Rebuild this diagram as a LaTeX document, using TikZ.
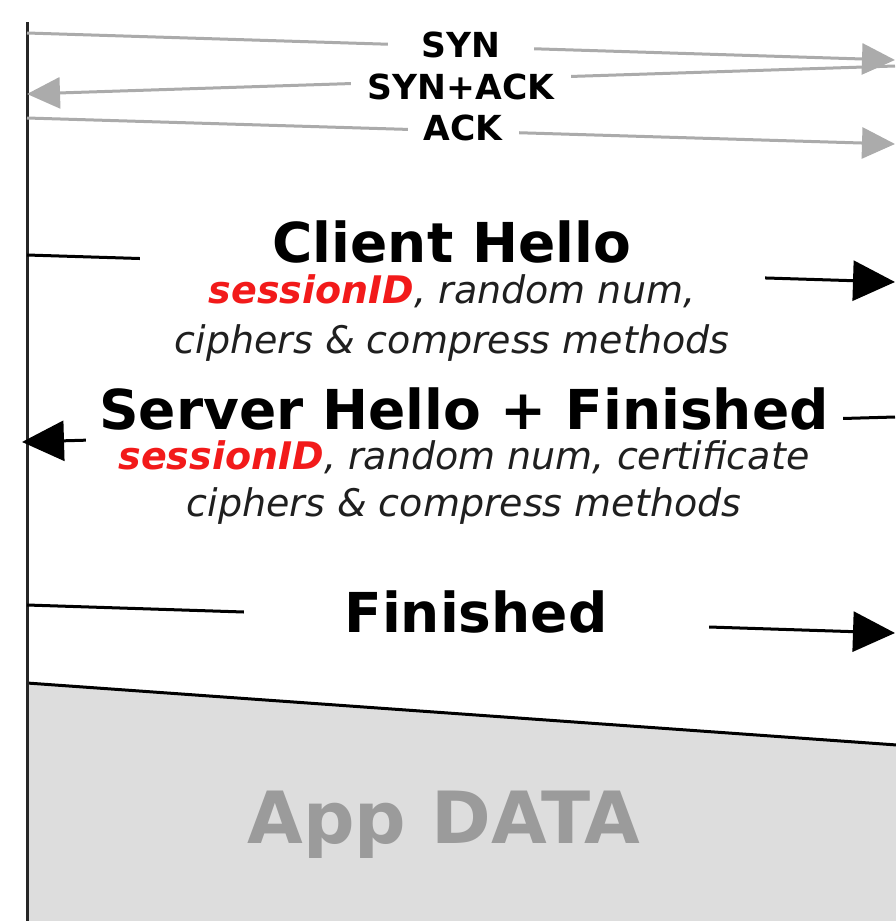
\documentclass[tikz,border=0pt]{standalone}
\usepackage{fontspec}
\setmainfont{DejaVu Sans}
\usetikzlibrary{arrows.meta}

\definecolor{tcpgray}{HTML}{ABABAB}
\definecolor{appfill}{HTML}{DDDDDD}
\definecolor{apptext}{HTML}{9B9B9B}
\definecolor{sidred}{HTML}{F21A1A}

\newcommand{\sid}{\textcolor{sidred}{\bfseries sessionID}}
\newcommand{\hd}[1]{{\fontsize{55}{60}\selectfont\bfseries\upshape\color{black}#1}}

\tikzset{
  lifeline/.style={line width=3pt, draw=black!85},
  tcpmsg/.style={line width=3pt, draw=tcpgray, -{Triangle[length=33pt,width=31pt]}},
  tlsmsg/.style={line width=3pt, -{Triangle[length=42pt,width=40pt]}},
  tcplbl/.style={fill=white, inner xsep=0pt, inner ysep=2pt, anchor=base,
    font=\fontsize{34.5}{38}\selectfont\bfseries},
  tlslbl/.style={fill=white, inner xsep=0pt, inner ysep=4pt, align=center,
    text=black!88, font=\fontsize{38}{50}\selectfont\itshape},
}

\begin{document}
\begin{tikzpicture}[x=1pt,y=-1pt]
  \useasboundingbox (0,0) rectangle (895,921);

  % application data once the handshake is done
  \fill[appfill] (27,683) -- (897,745) -- (897,921) -- (27,921) -- cycle;
  \draw[line width=3pt] (27,683) -- (897,745);
  \node[anchor=base, text=apptext, font=\fontsize{72}{80}\selectfont\bfseries] (app) at (444,843) {App DATA};

  % client and server
  \coordinate (cli) at (27,22);
  \coordinate (clibot) at (27,921);
  \coordinate (srv) at (897,22);
  \coordinate (srvbot) at (897,921);
  \draw[lifeline] (cli) -- (clibot);
  \draw[lifeline, draw=black!40] (srv) -- (srvbot);

  % tcp three way handshake
  \coordinate (syn-c) at (27,33);    \coordinate (syn-s) at (895,60);
  \coordinate (synack-s) at (895,66); \coordinate (synack-c) at (27,94);
  \coordinate (ack-c) at (27,118);   \coordinate (ack-s) at (895,144);
  \draw[tcpmsg] (syn-c) -- (syn-s);
  \draw[tcpmsg] (synack-s) -- (synack-c);
  \draw[tcpmsg] (ack-c) -- (ack-s);
  \node[tcplbl, minimum width=146pt] (syn) at (461,57) {SYN};
  \node[tcplbl, minimum width=220pt] (synack) at (461,99) {SYN+ACK};
  \node[tcplbl, minimum width=111pt] (ack) at (463,140) {ACK};

  % abbreviated tls handshake
  \coordinate (ch-c) at (27,255);    \coordinate (ch-s) at (895,282);
  \coordinate (sh-s) at (895,417);   \coordinate (sh-c) at (22,442);
  \coordinate (fin-c) at (27,605);   \coordinate (fin-s) at (895,633);
  \draw[tlsmsg] (ch-c) -- (ch-s);
  \draw[tlsmsg] (sh-s) -- (sh-c);
  \draw[tlsmsg] (fin-c) -- (fin-s);
  \node[tlslbl, anchor=north, minimum width=625pt] (chello) at (452,217)
    {\hd{Client Hello}\\[-9pt] \sid, random num,\\ ciphers \& compress methods};
  \node[tlslbl, anchor=north, minimum width=757pt] (shello) at (464,384)
    {\hd{Server Hello + Finished}\\[-10pt] \sid, random num, certificate\\[-3pt] ciphers \& compress methods};
  \node[tlslbl, anchor=base, minimum width=465pt] (fin) at (476,632) {\hd{Finished}};
\end{tikzpicture}
\end{document}
